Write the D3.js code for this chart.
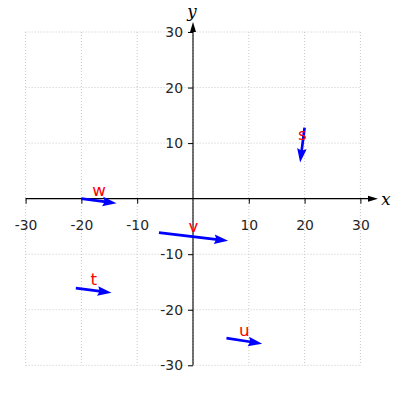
<!DOCTYPE html>
<html>
<head>
<meta charset="utf-8">
<script src="https://cdn.jsdelivr.net/npm/d3@7"></script>
<style>
    body { margin: 0; background: #fff; }
    svg { display: block; }
    .tick text { font-family: "DejaVu Sans", sans-serif; font-size: 13.9px; fill: #262626; }
</style>
</head>
<body>
<svg id="chart" width="400" height="400"></svg>
<script>
"use strict";

// vectors: tail position and components (data units)
var names = ["s", "t", "u", "v", "w"];
var tailX = [20, -21, 6, -6.1, -20];
var tailY = [12.8, -16.1, -25.1, -6.1, 0];
var compX = [-0.8, 6.4, 6.4, 12.4, 6.3];
var compY = [-6.3, -0.85, -1.0, -1.5, -0.85];
var tickVals = [-30, -20, -10, 10, 20, 30];
var gridVals = [-30, -20, -10, 0, 10, 20, 30];

var svg = d3.select("#chart");
var x = d3.scaleLinear().domain([-30, 30]).range([25.6, 360.4]);
var y = d3.scaleLinear().domain([-30, 30]).range([365.3, 32]);
var x0 = x(0), y0 = y(0);

// dotted grid
var grid = svg.append("g")
    .attr("stroke", "#c8c8c8")
    .attr("stroke-width", 1)
    .attr("stroke-dasharray", "1,2");
grid.selectAll("line.gx").data(gridVals).enter().append("line")
    .attr("x1", function (d) { return x(d); })
    .attr("x2", function (d) { return x(d); })
    .attr("y1", y(30)).attr("y2", y(-30));
grid.selectAll("line.gy").data(gridVals).enter().append("line")
    .attr("y1", function (d) { return y(d); })
    .attr("y2", function (d) { return y(d); })
    .attr("x1", x(-30)).attr("x2", x(30));

// axes through the origin
var fmt = function (d) { return String(d); };
var xAxis = d3.axisBottom(x).tickValues(tickVals).tickSize(5).tickFormat(fmt);
var yAxis = d3.axisLeft(y).tickValues(tickVals).tickSize(5).tickPadding(5).tickFormat(fmt);

var gx = svg.append("g").attr("transform", "translate(0," + y0 + ")").call(xAxis);
gx.select(".domain").remove();
gx.selectAll(".tick line").attr("stroke", "#000");
gx.selectAll(".tick text").attr("dy", 0).attr("y", 31);

var gy = svg.append("g").attr("transform", "translate(" + x0 + ",0)").call(yAxis);
gy.select(".domain").remove();
gy.selectAll(".tick line").attr("stroke", "#000");

// axis lines with arrow heads
svg.append("line")
    .attr("x1", x(-30)).attr("x2", 370).attr("y1", y0).attr("y2", y0)
    .attr("stroke", "#000").attr("stroke-width", 1.1);
svg.append("path")
    .attr("d", "M378," + y0 + "L368," + (y0 - 3) + "L368," + (y0 + 3) + "Z")
    .attr("fill", "#000");
svg.append("line")
    .attr("x1", x0).attr("x2", x0).attr("y1", y(-30)).attr("y2", 31)
    .attr("stroke", "#000").attr("stroke-width", 1.1);
svg.append("path")
    .attr("d", "M" + x0 + ",22L" + (x0 - 3) + ",32L" + (x0 + 3) + ",32Z")
    .attr("fill", "#000");

svg.append("text")
    .attr("x", 386).attr("y", y0 + 6)
    .attr("text-anchor", "middle")
    .attr("font-family", "DejaVu Serif, serif")
    .attr("font-style", "italic")
    .attr("font-size", 16.7)
    .text("x");
svg.append("text")
    .attr("x", x0 - 1).attr("y", 17)
    .attr("text-anchor", "middle")
    .attr("font-family", "DejaVu Serif, serif")
    .attr("font-style", "italic")
    .attr("font-size", 16.7)
    .text("y");

// quiver-like arrows
function arrowPath (i) {
    var px = x(tailX[i]), py = y(tailY[i]),
        qx = x(tailX[i] + compX[i]), qy = y(tailY[i] + compY[i]),
        len = Math.hypot(qx - px, qy - py),
        ux = (qx - px) / len, uy = (qy - py) / len,
        nx = -uy, ny = ux,
        hw = 1.35, hh = 4.8, hl = 14, ha = 12.5;
    function pt (a, b) {
        return [px + ux * a + nx * b, py + uy * a + ny * b];
    }
    var pts = [pt(0, hw), pt(len - ha, hw), pt(len - hl, hh), pt(len, 0),
               pt(len - hl, -hh), pt(len - ha, -hw), pt(0, -hw)];
    return "M" + pts.map(function (p) { return p[0].toFixed(2) + "," + p[1].toFixed(2); }).join("L") + "Z";
}

var idx = d3.range(names.length);
svg.append("g").selectAll("path").data(idx).enter().append("path")
    .attr("d", arrowPath)
    .attr("fill", "#0000ff");

svg.append("g").selectAll("text").data(idx).enter().append("text")
    .attr("x", function (i) { return x(tailX[i] + compX[i] / 2); })
    .attr("y", function (i) { return y(tailY[i] + compY[i] / 2) - 5; })
    .attr("text-anchor", "middle")
    .attr("font-family", "DejaVu Sans, sans-serif")
    .attr("font-size", 16.7)
    .attr("fill", "#ff0000")
    .text(function (i) { return names[i]; });
</script>
</body>
</html>
